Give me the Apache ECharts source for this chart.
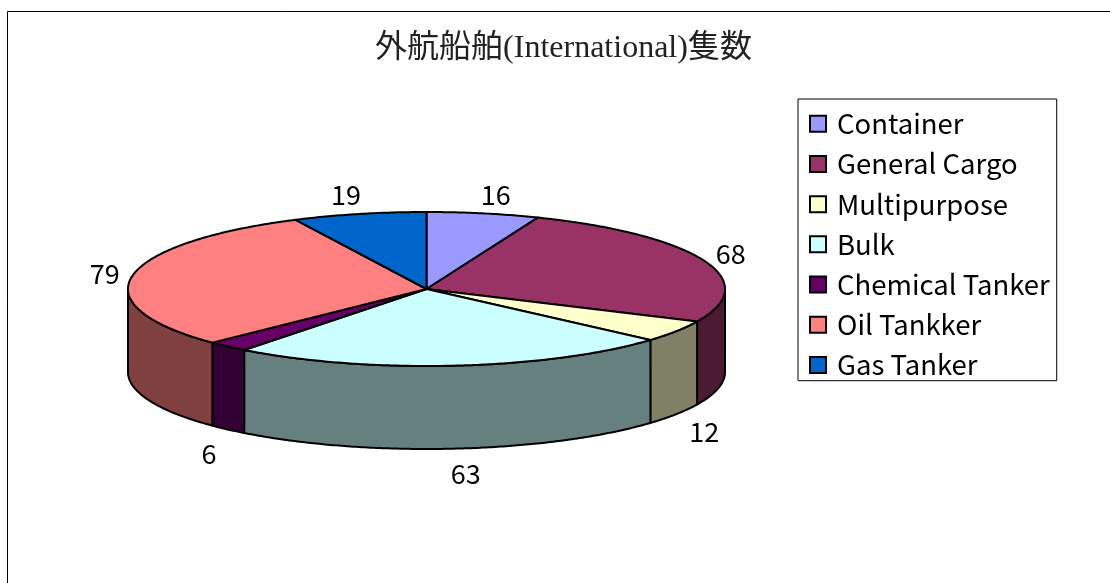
<!DOCTYPE html>
<html>
<head>
<meta charset="utf-8">
<style>
  html, body { margin: 0; padding: 0; background: #fff; overflow: hidden; }
  #main { width: 1110px; height: 583px; }
</style>
<script src="https://cdn.jsdelivr.net/npm/echarts@6/dist/echarts.min.js"></script>
</head>
<body>
<div id="main"></div>
<script>
const chartTitle = '外航船舶(International)隻数'
const categories = ['Container', 'General Cargo', 'Multipurpose', 'Bulk', 'Chemical Tanker', 'Oil Tankker', 'Gas Tanker']
const shipCounts = [16, 68, 12, 63, 6, 79, 19]
const topColors = ['#9999ff', '#993366', '#ffffcc', '#ccffff', '#660066', '#ff8080', '#0066cc']
const sideColors = ['#4d4d80', '#4d1a33', '#808066', '#668080', '#330033', '#804040', '#003366']

// 擬似3D円盤の形状
const cx = 426.5
const cy = 289
const rx = 298.5
const ry = 77
const depth = 83

const total = shipCounts.reduce((a, b) => a + b, 0)

function rimPoint(angle, drop) {
  return [cx + rx * Math.sin(angle), cy - ry * Math.cos(angle) + drop]
}

function arcPoints(from, to, drop) {
  const steps = Math.max(2, Math.ceil((to - from) / 0.01))
  const points = []
  for (let i = 0; i <= steps; i++) {
    points.push(rimPoint(from + (to - from) * i / steps, drop))
  }
  return points
}

function labelOffset(angle) {
  const s = Math.sin(angle)
  const c = Math.cos(angle)
  let dx = Math.sign(s) * (9 + 19 * Math.abs(s))
  if (c < 0 && Math.abs(s) > 0.5) {
    dx += 3
  }
  let dy = -2
  if (c > 0.25) {
    dy = -19.5 * c
  } else if (c < 0) {
    dy = 25 * Math.min(1, -c * 1.3)
  }
  return [dx, dy]
}

function renderSlice(params, api) {
  const index = params.seriesIndex
  const start = api.value(0) / total * Math.PI * 2
  const end = api.value(1) / total * Math.PI * 2
  const lineStyle = { stroke: '#000', lineWidth: 2, lineJoin: 'round' }
  const children = []

  // 手前側の側面だけ描く
  const sideFrom = Math.max(start, Math.PI / 2)
  const sideTo = Math.min(end, Math.PI * 1.5)
  if (sideTo > sideFrom) {
    const side = arcPoints(sideFrom, sideTo, 0).concat(arcPoints(sideFrom, sideTo, depth).reverse())
    children.push({
      type: 'polygon',
      shape: { points: side },
      style: { fill: sideColors[index], ...lineStyle }
    })
  }

  children.push({
    type: 'polygon',
    shape: { points: [[cx, cy]].concat(arcPoints(start, end, 0)) },
    style: { fill: topColors[index], ...lineStyle }
  })

  const mid = (start + end) / 2
  const drop = Math.cos(mid) < 0 ? depth : 0
  const anchor = rimPoint(mid, drop)
  const offset = labelOffset(mid)
  children.push({
    type: 'text',
    z2: 10,
    style: {
      text: String(api.value(2)),
      x: anchor[0] + offset[0],
      y: anchor[1] + offset[1],
      align: 'center',
      verticalAlign: 'middle',
      fill: '#000',
      font: '27px "Noto Sans CJK JP", sans-serif'
    }
  })
  return { type: 'group', children: children }
}

let running = 0
const series = categories.map((name, i) => {
  const from = running
  running += shipCounts[i]
  return {
    name: name,
    type: 'custom',
    coordinateSystem: 'none',
    silent: true,
    animation: false,
    itemStyle: { color: topColors[i] },
    renderItem: renderSlice,
    data: [[from, running, shipCounts[i]]]
  }
})

const chart = echarts.init(document.getElementById('main'), null, { renderer: 'canvas' })
chart.setOption({
  animation: false,
  backgroundColor: '#fff',
  title: {
    text: chartTitle,
    left: 563,
    top: 28,
    textAlign: 'center',
    textStyle: {
      color: '#222',
      fontSize: 32,
      fontWeight: 'normal',
      fontFamily: '"Liberation Serif", "Noto Sans CJK JP", serif'
    }
  },
  legend: {
    orient: 'vertical',
    align: 'left',
    left: 798,
    top: 99,
    padding: [11, 7, 2, 11],
    itemWidth: 16,
    itemHeight: 16,
    itemGap: 12.7,
    icon: 'rect',
    selectedMode: false,
    borderColor: '#000',
    borderWidth: 1,
    itemStyle: { borderColor: '#000', borderWidth: 2 },
    textStyle: {
      color: '#000',
      fontSize: 27.5,
      padding: [0, 0, 0, 6],
      fontFamily: '"Noto Sans CJK JP", sans-serif'
    },
    data: categories
  },
  graphic: [{
    type: 'rect',
    silent: true,
    shape: { x: 7.5, y: 11.5, width: 1200, height: 700 },
    style: { fill: 'none', stroke: '#000', lineWidth: 1 }
  }],
  series: series.map(s => s)
})
chart.setOption({ title: { left: 558.5 } })
</script>
</body>
</html>
